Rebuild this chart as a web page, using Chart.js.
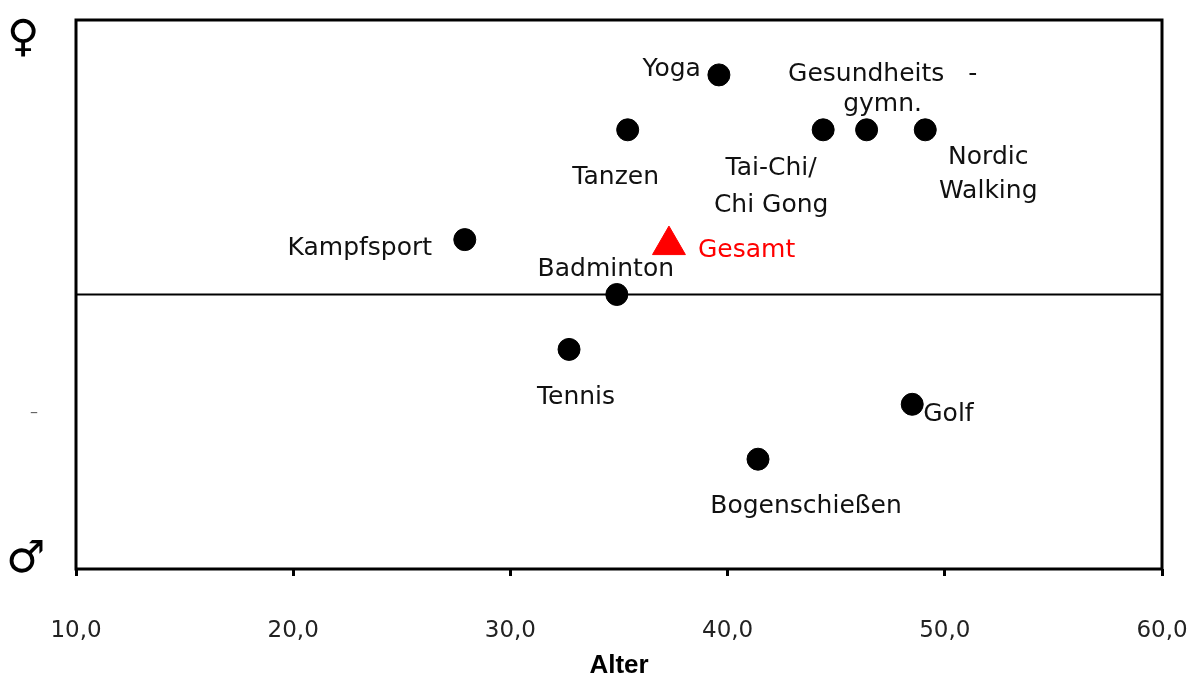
<!DOCTYPE html>
<html>
<head>
<meta charset="utf-8">
<script src="https://cdn.jsdelivr.net/npm/chart.js@4/dist/chart.umd.min.js"></script>
<style>
  html, body { margin:0; padding:0; background:#fff; }
  #wrap { width:1188px; height:679px; }
</style>
</head>
<body>
<div id="wrap"><canvas id="c" width="1188" height="679"></canvas></div>
<script>
// Daten
const sports  = ['Yoga','Tanzen','Tai-Chi/\nChi Gong','Gesundheits   -\ngymn.','Nordic\nWalking','Kampfsport','Badminton','Tennis','Golf','Bogenschießen'];
const ageAvg  = [39.6, 35.4, 44.4, 46.4, 49.1, 27.9, 34.9, 32.7, 48.5, 41.4];
const genderIdx = [0.80, 0.60, 0.60, 0.60, 0.60, 0.20, 0.00, -0.20, -0.40, -0.60];
const totalLabel = 'Gesamt';
const totalAge = [37.3];
const totalGender = [0.18];
const xTicks = [10, 20, 30, 40, 50, 60];

// Label-Versatz in Pixeln (nur Layout)
const labelPos = {
  'Yoga':                  {dx:-18, dy:-5,  align:'right'},
  'Tanzen':                {dx:-12, dy:48,  align:'center'},
  'Tai-Chi/\nChi Gong':    {dx:-52, dy:39,  align:'center', lh:37},
  'Gesundheits   -\ngymn.':{dx:16,  dy:-55, align:'center', lh:30},
  'Nordic\nWalking':       {dx:63,  dy:28,  align:'center', lh:34},
  'Kampfsport':            {dx:-105,dy:9,   align:'center'},
  'Badminton':             {dx:-11, dy:-25, align:'center'},
  'Tennis':                {dx:7,   dy:48,  align:'center'},
  'Golf':                  {dx:11,  dy:10,  align:'left'},
  'Bogenschießen':         {dx:48,  dy:47,  align:'center'},
  'Gesamt':                {dx:29,  dy:5,   align:'left', color:'#ff0000'}
};

const FONT = '"DejaVu Sans", sans-serif';

const decorPlugin = {
  id: 'decor',
  afterDraw(chart) {
    const ctx = chart.ctx;
    const a = chart.chartArea;
    const y = chart.scales.y;
    ctx.save();
    // Rahmen
    ctx.strokeStyle = '#000';
    ctx.lineWidth = 3;
    ctx.strokeRect(a.left, a.top, a.right - a.left, a.bottom - a.top);
    // Nulllinie
    ctx.lineWidth = 2;
    const y0 = y.getPixelForValue(0);
    ctx.beginPath(); ctx.moveTo(a.left, y0); ctx.lineTo(a.right, y0); ctx.stroke();
    // Geschlechtssymbole
    ctx.fillStyle = '#000';
    ctx.textAlign = 'center';
    ctx.textBaseline = 'middle';
    ctx.font = '44px ' + FONT;
    ctx.fillText('\u2640', 23, a.top + 20);
    ctx.fillText('\u2642', 26, a.bottom - 8);
    ctx.font = '16px ' + FONT;
    ctx.fillStyle = '#666';
    ctx.fillText('\u2013', 34, y.getPixelForValue(-0.43));
    // Beschriftungen
    chart.data.datasets.forEach((ds, di) => {
      const meta = chart.getDatasetMeta(di);
      meta.data.forEach((pt, i) => {
        const name = ds.names[i];
        const p = labelPos[name] || {dx:0, dy:0, align:'center'};
        ctx.font = '25px ' + FONT;
        ctx.fillStyle = p.color || '#111';
        ctx.textAlign = p.align;
        ctx.textBaseline = 'middle';
        name.split('\n').forEach((line, k) => {
          ctx.fillText(line, pt.x + p.dx, pt.y + p.dy + k * (p.lh || 34));
        });
      });
    });
    ctx.restore();
  }
};

new Chart(document.getElementById('c'), {
  type: 'scatter',
  data: {
    datasets: [
      {
        names: sports,
        data: ageAvg.map((v, i) => ({x: v, y: genderIdx[i]})),
        backgroundColor: '#000',
        borderColor: '#000',
        pointRadius: 11,
        pointHoverRadius: 11
      },
      {
        names: [totalLabel],
        data: totalAge.map((v, i) => ({x: v, y: totalGender[i]})),
        pointStyle: 'triangle',
        backgroundColor: '#ff0000',
        borderColor: '#ff0000',
        pointRadius: 19,
        pointHoverRadius: 19
      }
    ]
  },
  options: {
    responsive: false,
    animation: false,
    layout: { padding: { left: 76, right: 26, top: 13, bottom: 0 } },
    plugins: { legend: { display: false }, tooltip: { enabled: false } },
    scales: {
      x: {
        type: 'linear',
        min: xTicks[0],
        max: xTicks[xTicks.length - 1],
        afterBuildTicks: s => { s.ticks = xTicks.map(v => ({value: v})); },
        afterFit: s => { s.height = 110; s.paddingLeft = 0; s.paddingRight = 0; },
        border: { display: false },
        grid: { drawOnChartArea: false, drawTicks: true, tickLength: 7, color: '#000', lineWidth: 3 },
        ticks: {
          color: '#222',
          padding: 41,
          maxRotation: 0,
          font: { family: '"DejaVu Sans", sans-serif', size: 23 },
          callback: v => v.toFixed(1).replace('.', ',')
        },
        title: {
          display: true,
          text: 'Alter',
          color: '#000',
          font: { family: '"Liberation Sans", Arial, sans-serif', size: 26, weight: 'bold', lineHeight: 1.0 },
          padding: { top: 0, bottom: 0 }
        }
      },
      y: {
        type: 'linear',
        min: -1,
        max: 1,
        display: false
      }
    }
  },
  plugins: [decorPlugin]
});
</script>
</body>
</html>
